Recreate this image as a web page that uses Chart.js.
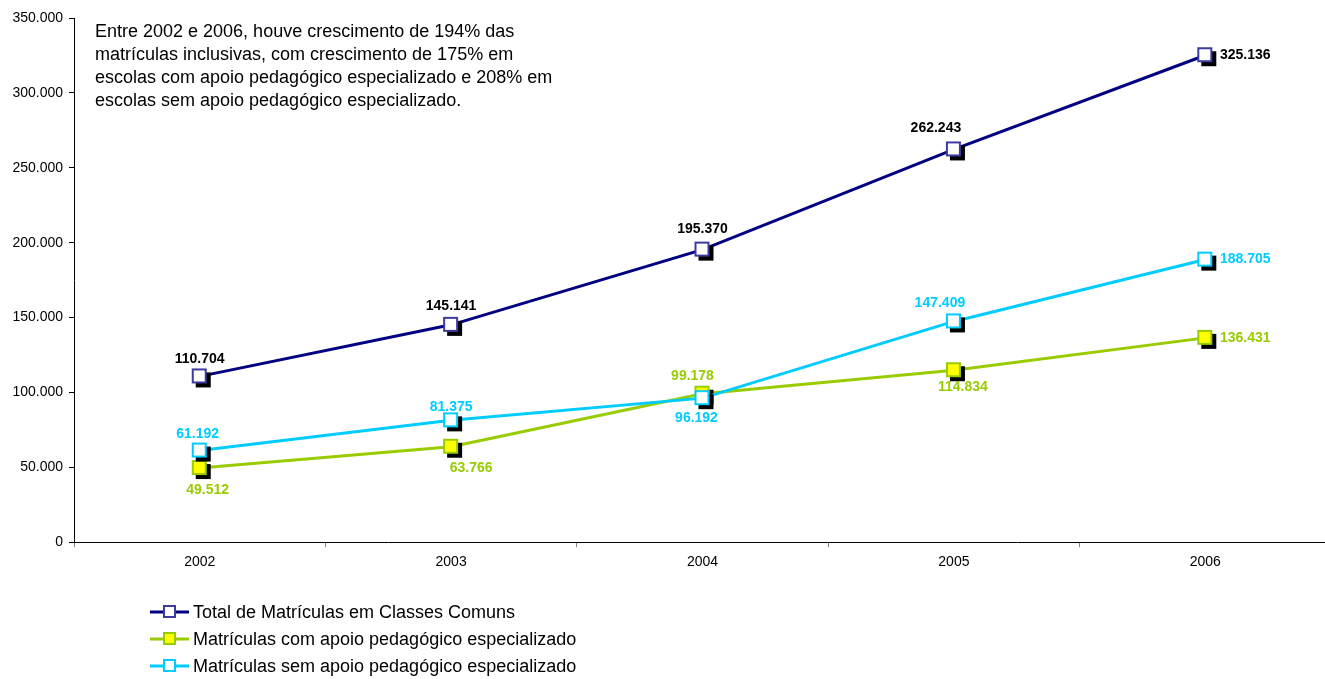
<!DOCTYPE html>
<html>
<head>
<meta charset="utf-8">
<script src="https://cdn.jsdelivr.net/npm/chart.js@4.4.0/dist/chart.umd.min.js"></script>
<style>
  html, body { margin: 0; padding: 0; background: #fff; overflow: hidden; }
  #wrap { width: 1332px; height: 679px; }
</style>
</head>
<body>
<div id="wrap"><canvas id="chart" width="1332" height="679"></canvas></div>
<script>
const years = ['2002', '2003', '2004', '2005', '2006'];
const totalComuns = [110704, 145141, 195370, 262243, 325136];
const comApoio = [49512, 63766, 99178, 114834, 136431];
const semApoio = [61192, 81375, 96192, 147409, 188705];
const yTicks = [0, 50000, 100000, 150000, 200000, 250000, 300000, 350000];

const note = [
  'Entre 2002 e 2006, houve crescimento de 194% das',
  'matrículas inclusivas, com crescimento de 175% em',
  'escolas com apoio pedagógico especializado e 208% em',
  'escolas sem apoio pedagógico especializado.'
];

const FONT = '"Liberation Sans", Arial, sans-serif';

function fmt(v) {
  return String(v).replace(/\B(?=(\d{3})+(?!\d))/g, '.');
}

// square marker with black drop shadow
function marker(border, fill) {
  const c = document.createElement('canvas');
  c.width = 26; c.height = 26;
  const g = c.getContext('2d');
  g.fillStyle = '#000';
  g.fillRect(9, 9, 15, 15);
  g.fillStyle = border;
  g.fillRect(5, 5, 15, 15);
  g.fillStyle = fill;
  g.fillRect(7, 7, 11, 11);
  return c;
}

const series = [
  { label: 'Total de Matrículas em Classes Comuns', data: totalComuns, line: '#000080', border: '#3c3ca0', fill: '#ffffff', text: '#000000', order: 0,
    offs: [[0, -17], [0, -19], [0, -20], [-18, -21], [40, 0]] },
  { label: 'Matrículas com apoio pedagógico especializado', data: comApoio, line: '#99cc00', border: '#99cc00', fill: '#ffff00', text: '#99cc00', order: 2,
    offs: [[8, 22], [20, 21], [-10, -18], [9, 17], [40, 0]] },
  { label: 'Matrículas sem apoio pedagógico especializado', data: semApoio, line: '#00ccff', border: '#00ccff', fill: '#ffffff', text: '#00ccff', order: 1,
    offs: [[-2, -16], [0, -13], [-6, 20], [-14, -18], [40, 0]] }
];

const valueLabels = {
  id: 'valueLabels',
  afterDatasetsDraw(chart) {
    const ctx = chart.ctx;
    ctx.save();
    ctx.font = 'bold 14px ' + FONT;
    ctx.textAlign = 'center';
    ctx.textBaseline = 'middle';
    series.forEach((s, i) => {
      const meta = chart.getDatasetMeta(i);
      meta.data.forEach((pt, j) => {
        ctx.fillStyle = s.text;
        ctx.fillText(fmt(s.data[j]), pt.x + s.offs[j][0], pt.y + s.offs[j][1]);
      });
    });
    ctx.restore();
  }
};

const extras = {
  id: 'extras',
  afterDraw(chart) {
    const ctx = chart.ctx;
    ctx.save();
    // note text
    ctx.fillStyle = '#000';
    ctx.font = '18px ' + FONT;
    ctx.textAlign = 'left';
    ctx.textBaseline = 'middle';
    note.forEach((t, i) => ctx.fillText(t, 95, 32 + i * 23));
    // legend
    series.forEach((s, i) => {
      const y = 612 + i * 27;
      ctx.strokeStyle = s.line;
      ctx.lineWidth = 3;
      ctx.beginPath();
      ctx.moveTo(150, y);
      ctx.lineTo(189, y);
      ctx.stroke();
      ctx.fillStyle = s.border;
      ctx.fillRect(163, y - 7, 13, 13);
      ctx.fillStyle = s.fill;
      ctx.fillRect(165, y - 5, 9, 9);
      ctx.fillStyle = '#000';
      ctx.fillText(s.label, 193, y + 1);
    });
    ctx.restore();
  }
};

new Chart(document.getElementById('chart'), {
  type: 'line',
  data: {
    labels: years,
    datasets: series.map(s => ({
      label: s.label,
      data: s.data,
      order: s.order,
      borderColor: s.line,
      borderWidth: 3,
      pointStyle: marker(s.border, s.fill),
      pointRadius: 7,
      pointHoverRadius: 7,
      tension: 0,
      fill: false,
      clip: false
    }))
  },
  options: {
    responsive: false,
    animation: false,
    events: [],
    layout: { autoPadding: false, padding: { top: 18, right: 1, bottom: 101, left: 0 } },
    plugins: {
      legend: { display: false },
      tooltip: { enabled: false }
    },
    scales: {
      x: {
        offset: true,
        grid: { offset: true, drawOnChartArea: false, tickLength: 5, color: '#808080', tickWidth: 1 },
        border: { color: '#000', width: 1 },
        ticks: { color: '#000', font: { family: FONT, size: 14 }, padding: 7 }
      },
      y: {
        min: 0,
        max: 350000,
        afterBuildTicks: axis => { axis.ticks = yTicks.map(v => ({ value: v })); },
        grid: { drawOnChartArea: false, tickLength: 5, color: '#000' },
        border: { color: '#000', width: 1 },
        ticks: { color: '#000', font: { family: FONT, size: 14 }, padding: 6, callback: v => fmt(v) },
        afterFit: axis => { axis.width = 74; }
      }
    }
  },
  plugins: [valueLabels, extras]
});
</script>
</body>
</html>
